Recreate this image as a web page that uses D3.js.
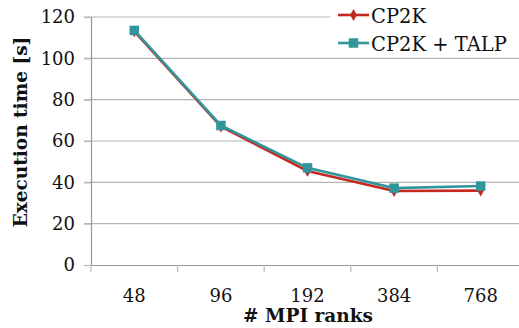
<!DOCTYPE html>
<html lang="en">
<head>
<meta charset="UTF-8" />
<title>CP2K execution time</title>
<script src="https://d3js.org/d3.v7.min.js"></script>
<style>
  body { margin: 0; background: #fff; }
  svg { display: block; }
  svg text { font-family: 'DejaVu Serif', serif !important; fill: #111; }
  .tick text { font-size: 18px; }
  .label { font-size: 18.5px; font-weight: bold; }
  .legend text { font-size: 19.5px; }
</style>
</head>
<body>
<svg width="519" height="328"></svg>
<script>
  // values
  const ranks = ['48', '96', '192', '384', '768'];
  const cp2k = [113, 67, 45.5, 35.8, 36];
  const cp2kTalp = [113.5, 67.5, 47, 37.2, 38.2];
  const yTicks = [0, 20, 40, 60, 80, 100, 120];

  const series = [
    { name: 'CP2K', values: cp2k, color: '#c4281f', marker: 'diamond' },
    { name: 'CP2K + TALP', values: cp2kTalp, color: '#31969c', marker: 'square' }
  ];

  const svg = d3.select('svg');
  const plotLeft = 91, plotRight = 524, plotTop = 17, plotBottom = 265;

  const x = d3.scaleBand().domain(ranks).range([plotLeft, plotRight]);
  const y = d3.scaleLinear().domain([0, 120]).range([plotBottom, plotTop]);

  // horizontal grid
  svg.append('g')
    .selectAll('line')
    .data(yTicks.slice(1))
    .enter().append('line')
    .attr('x1', plotLeft - 7).attr('x2', 519)
    .attr('y1', d => y(d)).attr('y2', d => y(d))
    .attr('stroke', '#b3b3b3').attr('stroke-width', 1.2);

  // y axis
  const yAxis = svg.append('g')
    .attr('transform', `translate(${plotLeft},0)`)
    .call(d3.axisLeft(y).tickValues(yTicks).tickSize(7).tickPadding(9));
  yAxis.attr('font-family', null).attr('font-size', null);
  yAxis.select('.domain').attr('stroke', '#999').attr('stroke-width', 1.2);
  yAxis.selectAll('.tick line').attr('stroke', '#bbb').attr('stroke-width', 1.2);

  // x axis, ticks between categories
  const xAxis = svg.append('g')
    .attr('transform', `translate(0,${plotBottom})`)
    .call(d3.axisBottom(x).tickSize(0).tickPadding(24));
  xAxis.attr('font-family', null).attr('font-size', null);
  xAxis.select('.domain').attr('stroke', '#999').attr('stroke-width', 1.2);
  xAxis.selectAll('.sep')
    .data(ranks)
    .enter().append('line')
    .attr('x1', d => x(d)).attr('x2', d => x(d))
    .attr('y1', 0).attr('y2', 7)
    .attr('stroke', '#bbb').attr('stroke-width', 1.2);

  const line = d3.line()
    .x((d, i) => x(ranks[i]) + x.bandwidth() / 2)
    .y(d => y(d));

  const diamond = d3.symbol().type(d3.symbolDiamond).size(40);
  const square = d3.symbol().type(d3.symbolSquare).size(90);

  series.forEach(s => {
    const g = svg.append('g');
    g.append('path')
      .datum(s.values)
      .attr('d', line)
      .attr('fill', 'none')
      .attr('stroke', s.color)
      .attr('stroke-width', 2.6);
    g.selectAll('path.mark')
      .data(s.values)
      .enter().append('path')
      .attr('class', 'mark')
      .attr('d', s.marker === 'diamond' ? diamond : square)
      .attr('transform', (d, i) => `translate(${x(ranks[i]) + x.bandwidth() / 2},${y(d)})`)
      .attr('fill', s.color);
  });

  // legend
  const legend = svg.append('g').attr('class', 'legend');
  legend.append('rect')
    .attr('x', 330).attr('y', 0).attr('width', 189).attr('height', 56)
    .attr('fill', '#fff');
  series.forEach((s, i) => {
    const ly = 15 + i * 28;
    legend.append('line')
      .attr('x1', 338).attr('x2', 369)
      .attr('y1', ly).attr('y2', ly)
      .attr('stroke', s.color).attr('stroke-width', 2.6);
    legend.append('path')
      .attr('d', s.marker === 'diamond' ? diamond : square)
      .attr('transform', `translate(353.5,${ly})`)
      .attr('fill', s.color);
    legend.append('text')
      .attr('x', 371).attr('y', ly + 8)
      .text(s.name);
  });

  // axis titles
  svg.append('text')
    .attr('class', 'label')
    .attr('text-anchor', 'middle')
    .attr('transform', 'translate(27,132) rotate(-90)')
    .text('Execution time [s]');

  svg.append('text')
    .attr('class', 'label')
    .attr('text-anchor', 'middle')
    .attr('x', 308).attr('y', 322)
    .text('# MPI ranks');
</script>
</body>
</html>
